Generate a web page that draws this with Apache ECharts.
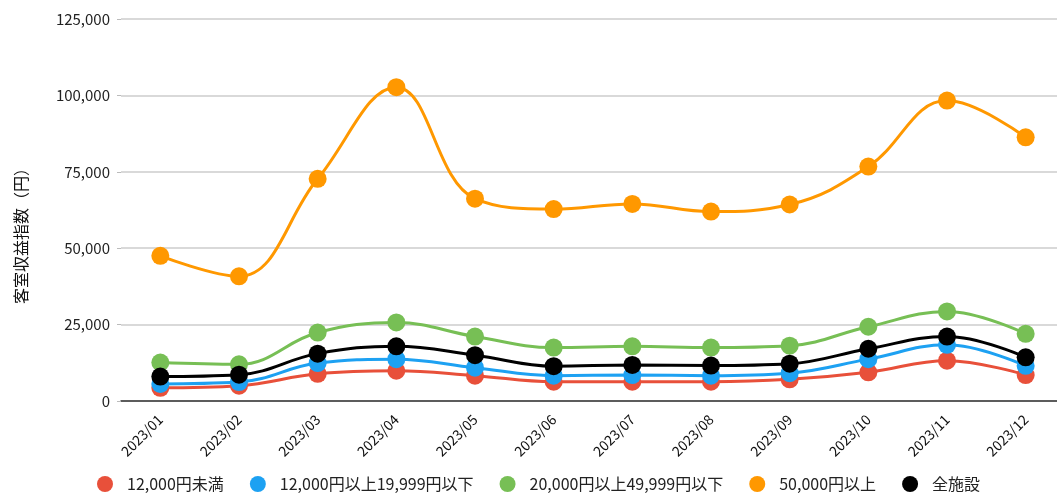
<!DOCTYPE html>
<html><head><meta charset="utf-8">
<script src="https://cdn.jsdelivr.net/npm/echarts@6/dist/echarts.min.js"></script>
<style>html,body{margin:0;padding:0;background:#fff;overflow:hidden}#c{width:1065px;height:495px}</style>
</head><body><div id="c"></div>
<script>
const categories = ['2023/01','2023/02','2023/03','2023/04','2023/05','2023/06','2023/07','2023/08','2023/09','2023/10','2023/11','2023/12'];
const under12000 = [4300,5000,8900,9900,8300,6300,6300,6300,7100,9400,13200,8500];
const from12000to19999 = [5600,6200,12400,13700,10900,8300,8500,8300,9100,13700,18400,11500];
const from20000to49999 = [12600,12000,22400,25700,21100,17500,17900,17500,18100,24300,29300,22000];
const over50000 = [47500,40800,72700,102700,66200,62800,64500,62000,64300,76700,98300,86300];
const allFacilities = [8000,8600,15500,17900,15000,11400,11800,11600,12200,17100,21100,14300];
const yTicks = [0,25000,50000,75000,100000,125000];

const seriesDefs = [
  {name:'12,000円未満', data:under12000, color:'#E8503A'},
  {name:'12,000円以上19,999円以下', data:from12000to19999, color:'#1DA1F2'},
  {name:'20,000円以上49,999円以下', data:from20000to49999, color:'#77BF55'},
  {name:'50,000円以上', data:over50000, color:'#FF9800'},
  {name:'全施設', data:allFacilities, color:'#000000'}
];
const font = '"Noto Sans CJK JP", "Noto Sans", sans-serif';
const chart = echarts.init(document.getElementById('c'));
chart.setOption({
  animation:false,
  textStyle:{fontFamily:font},
  grid:{left:121, top:19, right:0, bottom:94, containLabel:false},
  legend:{
    top:471, left:92, itemGap:26, itemWidth:34, itemHeight:16, icon:'circle',
    textStyle:{fontSize:16, color:'#222', fontFamily:font},
    data:seriesDefs.map(s=>s.name)
  },
  xAxis:{
    type:'category', data:categories, boundaryGap:true,
    axisLine:{lineStyle:{color:'#333', width:1.5}},
    axisTick:{show:false},
    axisLabel:{rotate:45, fontSize:14, color:'#111', margin:16, interval:0, fontFamily:font}
  },
  yAxis:{
    type:'value', min:yTicks[0], max:yTicks[yTicks.length-1], interval:25000,
    name:'客室収益指数（円）', nameLocation:'middle', nameGap:92, nameRotate:90,
    nameTextStyle:{fontSize:16, color:'#111', fontFamily:font, padding:[0,44,0,0]},
    axisLine:{show:false},
    axisTick:{show:true, length:4, lineStyle:{color:'#bbb'}},
    splitLine:{lineStyle:{color:'#cccccc', width:1.5}},
    axisLabel:{fontSize:15, color:'#222', margin:11, fontFamily:font,
      formatter:v=>v.toLocaleString('en-US')}
  },
  series:seriesDefs.map(s=>({
    name:s.name, type:'line', data:s.data, smooth:0.4,
    symbol:'circle', symbolSize:18,
    lineStyle:{color:s.color, width:3},
    itemStyle:{color:s.color},
    z: 2
  }))
});
</script></body></html>
